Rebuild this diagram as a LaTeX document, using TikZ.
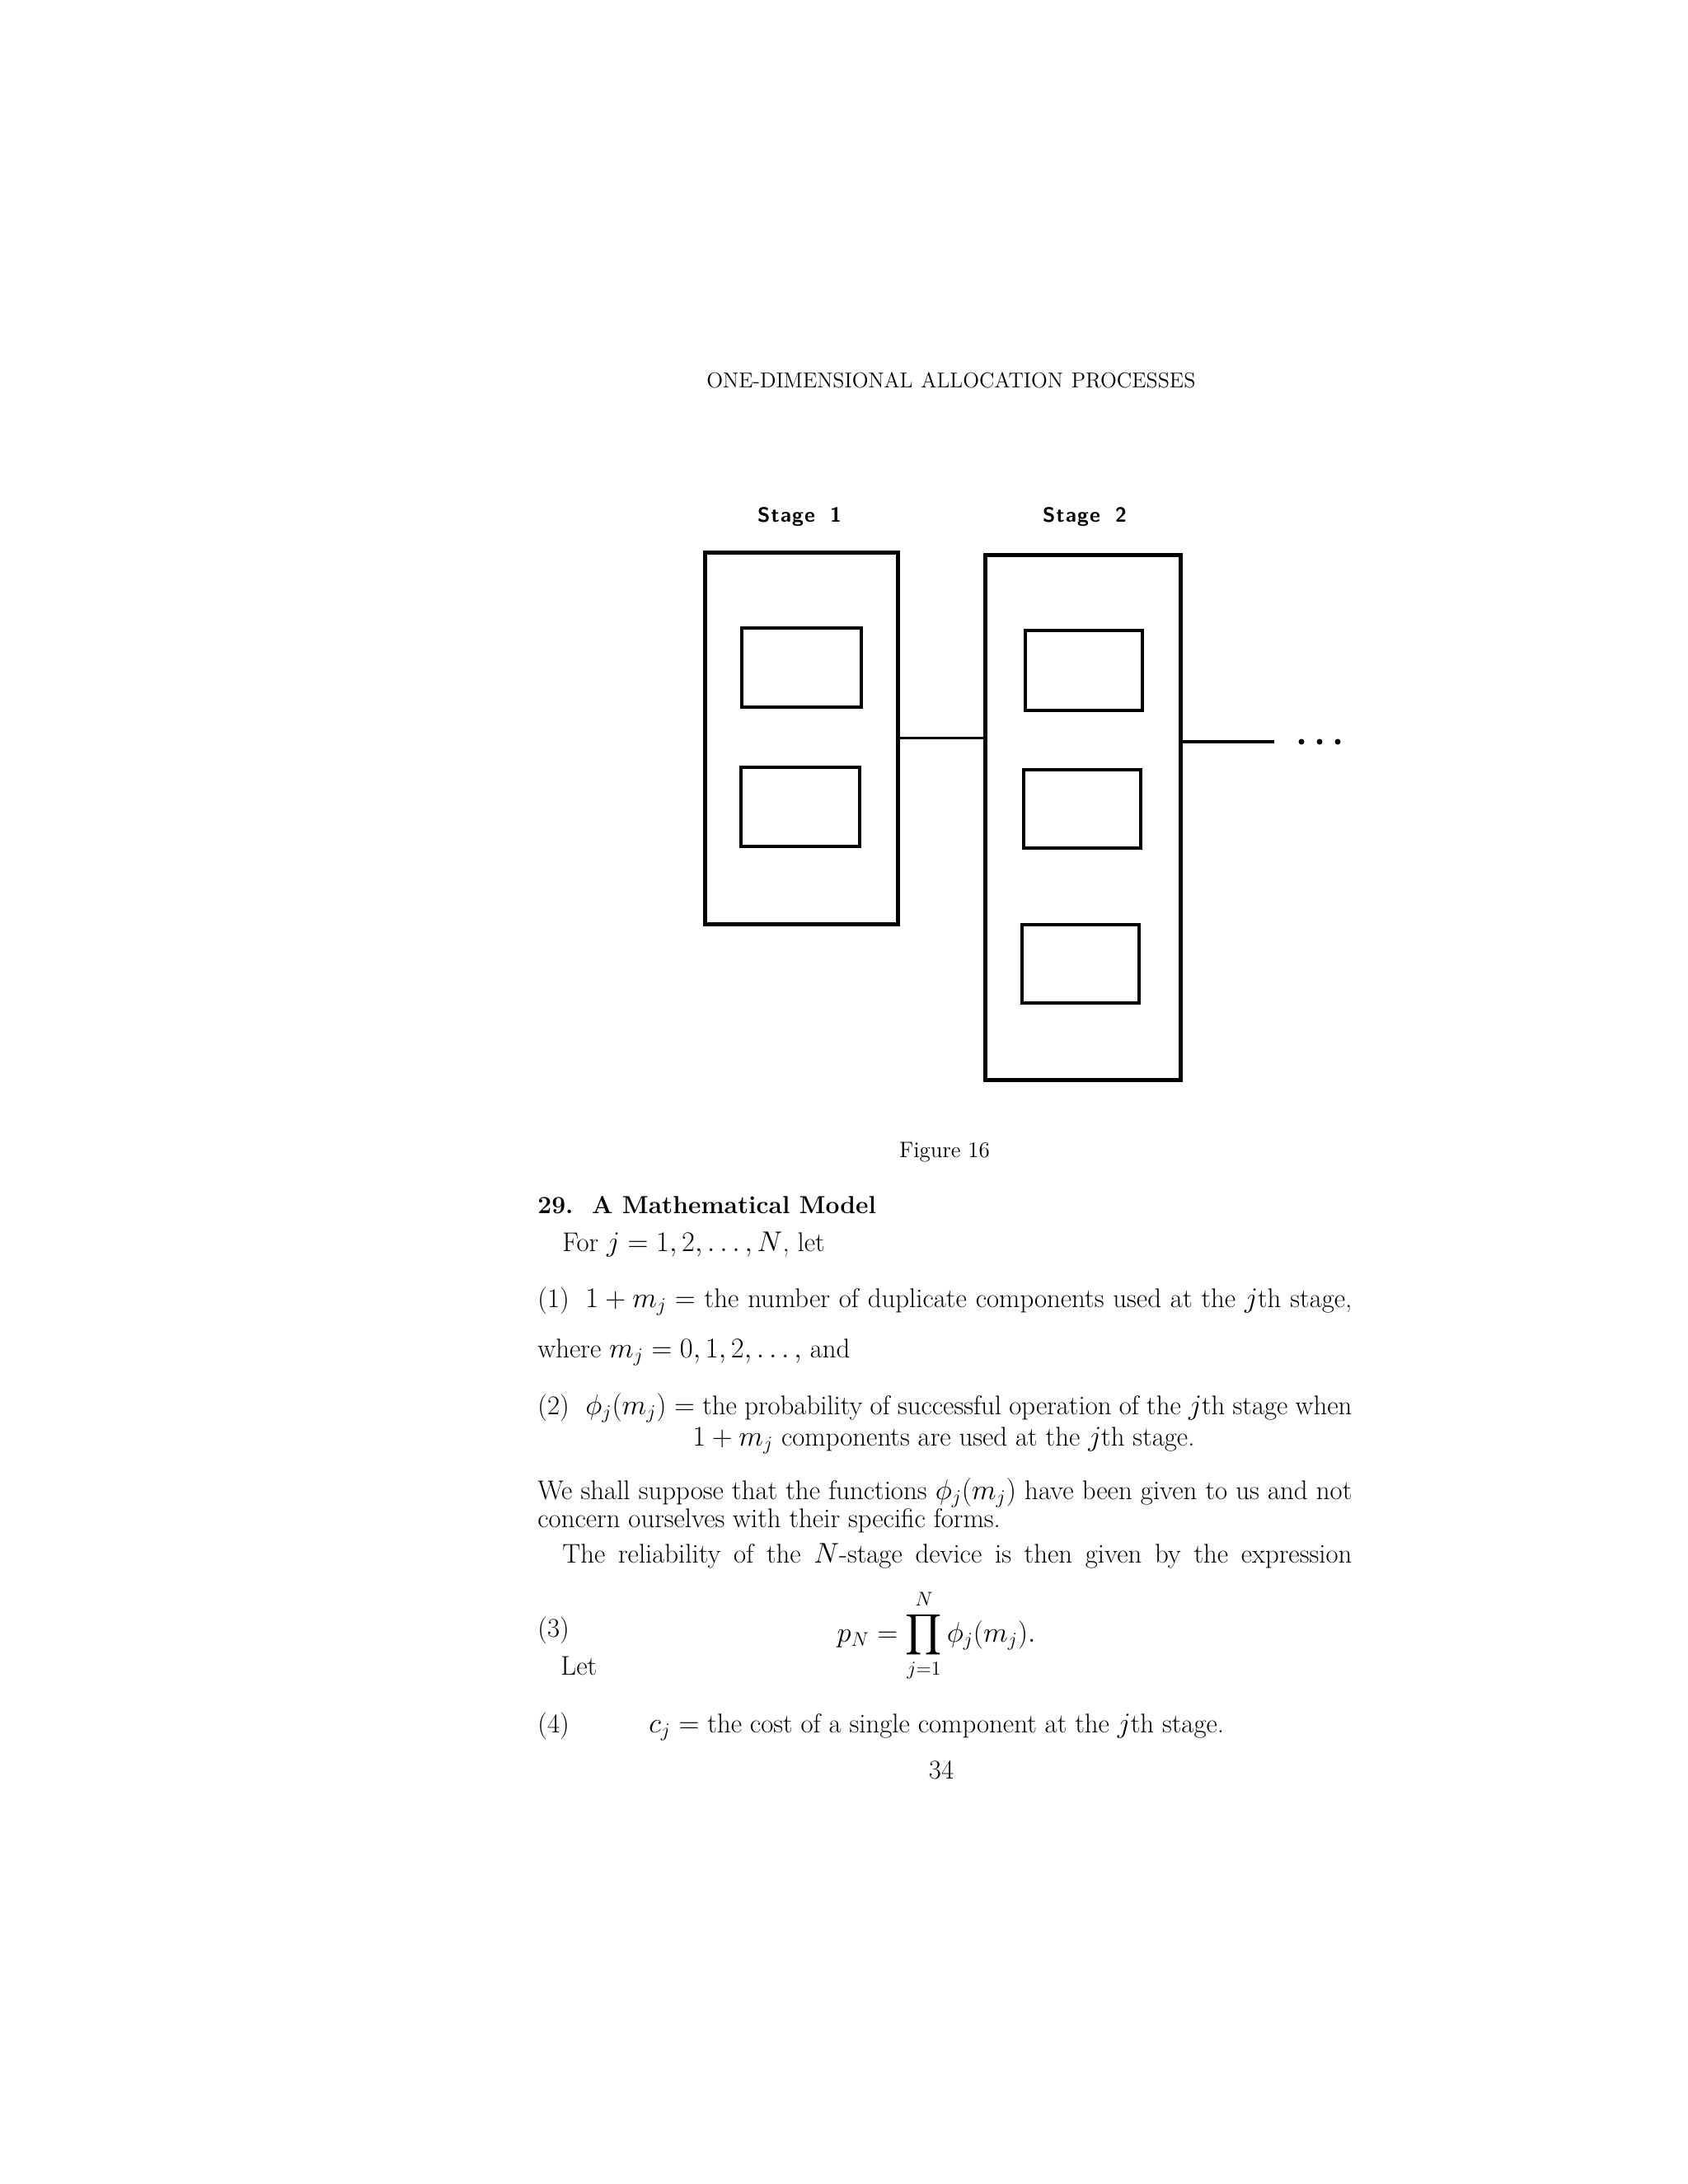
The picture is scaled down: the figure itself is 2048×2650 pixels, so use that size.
\documentclass[tikz,border=0pt]{standalone}
\usepackage{amsmath}
\begin{document}
\begin{tikzpicture}[x=0.5pt,y=-0.5pt]
\thickmuskip=5mu plus 1mu\relax
\medmuskip=4mu plus 1mu\relax
\useasboundingbox[fill=white] (0,0) rectangle (2048,2650);
\tikzset{
  txt/.style={inner sep=0pt, anchor=base west, font=\fontsize{16.4}{19}\selectfont},
  ctxt/.style={inner sep=0pt, anchor=base, font=\fontsize{16.4}{19}\selectfont},
  stagelabel/.style={inner sep=0pt, anchor=base, font=\fontsize{12.5}{14}\selectfont\sffamily\bfseries},
  outerbox/.style={draw, rectangle, line width=2.5pt, inner sep=0pt},
  innerbox/.style={draw, rectangle, line width=2.2pt, inner sep=0pt},
  link/.style={line width=1.8pt},
  dot/.style={fill, circle, inner sep=0pt, minimum size=3.5pt}
}
% running head
\node[inner sep=0pt, anchor=base west, font=\fontsize{13}{15}\selectfont] (head) at (857,470)
  {\makebox[296.5pt][s]{ONE-DIMENSIONAL\hfill ALLOCATION\hfill PROCESSES}};

% stage labels
\node[stagelabel] (s1) at (970,633) {S\kern.6pt t\kern.6pt a\kern.6pt g\kern.6pt e\ \ 1};
\node[stagelabel] (s2) at (1316,633) {S\kern.6pt t\kern.6pt a\kern.6pt g\kern.6pt e\ \ 2};

% stage 1
\node[outerbox, minimum width=117pt, minimum height=225.5pt] (o1) at (972,895.5) {};
\node[innerbox, minimum width=72.5pt, minimum height=48pt] (a1) at (972.5,810) {};
\node[innerbox, minimum width=72pt, minimum height=48pt] (b1) at (971,979) {};
% stage 2
\node[outerbox, minimum width=118.5pt, minimum height=318.5pt] (o2) at (1313.5,991.5) {};
\node[innerbox, minimum width=71pt, minimum height=48.5pt] (a2) at (1315,813.5) {};
\node[innerbox, minimum width=71pt, minimum height=47.5pt] (b2) at (1313,981.5) {};
\node[innerbox, minimum width=71pt, minimum height=47.5pt] (c2) at (1311,1169.5) {};

% connectors
\draw[link] (o1.east) -- (o1.east -| o2.west);
\coordinate (tail) at (1546,900);
\draw[link] (tail -| o2.east) -- (tail);
\node[dot] (d1) at (1579,900) {};
\node[dot] (d2) at (1601,900) {};
\node[dot] (d3) at (1623,900) {};

% caption
\node[ctxt, font=\fontsize{13.5}{16}\selectfont] (cap) at (1146,1404) {Figure 16};

% section heading
\node[txt, font=\fontsize{15}{18}\selectfont\bfseries] (sec) at (652,1472) {29.\ \ A Mathematical Model};
\node[txt] (l1) at (682,1518) {For $j = 1, 2, \ldots, N$, let};

\node[txt] (e1n) at (652,1586) {(1)};
\node[txt] (e1) at (710,1586) {\makebox[465pt][s]{$1 + m_j =$ the number of duplicate components used at the $j$th stage,}};

\node[txt] (l2) at (652,1647) {where $m_j = 0, 1, 2, \ldots,$ and};

\node[txt] (e2n) at (652,1716) {(2)};
\node[txt] (e2) at (710,1716) {\makebox[465pt][s]{$\phi_j(m_j) =$ the probability of successful operation of the $j$th stage when}};
\node[txt] (e2b) at (840,1754) {$1 + m_j$ components are used at the $j$th stage.};

\node[txt] (p1) at (652,1819) {\makebox[494pt][s]{We shall suppose that the functions $\phi_j(m_j)$ have been given to us and not}};
\node[txt] (p2) at (652,1853) {concern ourselves with their specific forms.};
\node[txt] (p3) at (682,1896) {\makebox[479pt][s]{The reliability of the $N$-stage device is then given by the expression}};

\node[txt] (e3n) at (652,1986) {(3)};
\node[ctxt] (e3) at (1136,1992) {$\displaystyle p_N = \prod_{j=1}^{N} \phi_j(m_j).$};
\node[txt] (let) at (680,2032) {Let};

\node[txt] (e4n) at (652,2102) {(4)};
\node[txt] (e4) at (787,2102) {$c_j =$ the cost of a single component at the $j$th stage.};

\node[ctxt] (pg) at (1142,2158) {34};
\end{tikzpicture}
\end{document}
